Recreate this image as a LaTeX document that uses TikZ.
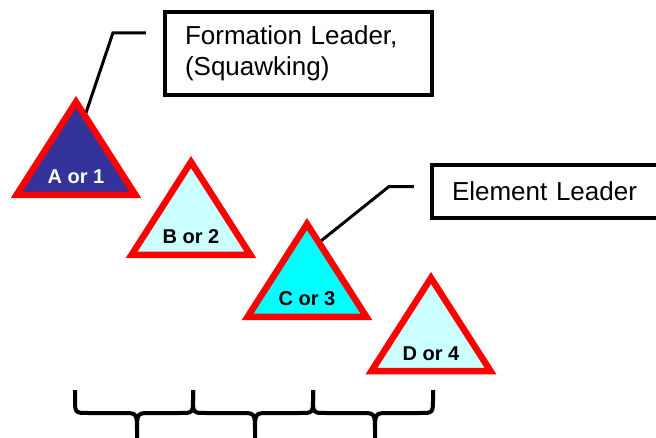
\documentclass[tikz,border=0pt]{standalone}
\usepackage{fontspec}
\setmainfont{Liberation Sans}
\usetikzlibrary{calc}
\definecolor{navyfill}{HTML}{333399}
\definecolor{palecyan}{HTML}{CCFFFF}
\definecolor{brightcyan}{HTML}{00FFFF}
\tikzset{
  plane/.style={draw=red,line width=6.5pt,line join=miter},
  tag/.style={font=\fontsize{20}{24}\selectfont\bfseries,anchor=base,inner sep=0pt},
  callout/.style={draw,line width=3.5pt,outer sep=0pt,inner xsep=20pt,align=left,
    font=\fontsize{26}{31}\selectfont,anchor=north west},
  lead/.style={line width=3pt},
  curly/.style={line width=4pt}
}

\begin{document}
\begin{tikzpicture}[x=1pt,y=-1pt]
\useasboundingbox (0,0) rectangle (656,438);
\clip (0,0) rectangle (656,438);
% apex of each aircraft
\foreach \n/\x/\y in {A/76/102,B/191/162,C/307/224,D/431/278}{
  \coordinate (\n) at (\x,\y);
  \coordinate (\n-r) at ($(\n)+(59.5,93)$);
}

\node[callout,minimum width=267pt,minimum height=83pt,text width=227pt] (lead1) at (165,12)
  {Formation Leader,\\(Squawking)};
\node[callout,minimum height=53pt,text width=200pt] (lead2) at (432,165) {Element Leader};

\draw[lead] ($(A)!.15!(A-r)$) -- ++(28,-83) -- ++(33,0);
\draw[lead] ($(C)!.2!(C-r)$) -- ++(70,-56) -- ++(25,0);

\foreach \n/\f/\t[count=\i] in {A/navyfill/white,B/palecyan/black,C/brightcyan/black,D/palecyan/black}{
  \filldraw[plane,fill=\f] (\n) -- (\n-r) -- ++(-119,0) -- cycle;
  \node[tag,text=\t] (\n-tag) at ($(\n)+(0,82)$) {\n\ or \i};
}

% element spacing
\foreach \l/\m/\r in {75/137/193,193/255/313,313/375/433}
  \draw[curly] (\l,390) -- (\l,398) .. controls (\l,413) .. (\l+13,413) -- (\m-14,413)
      .. controls (\m,413) .. (\m,432) -- (\m,445)
    (\m,445) -- (\m,432) .. controls (\m,413) .. (\m+14,413) -- (\r-13,413)
      .. controls (\r,413) .. (\r,398) -- (\r,390);
\end{tikzpicture}
\end{document}
